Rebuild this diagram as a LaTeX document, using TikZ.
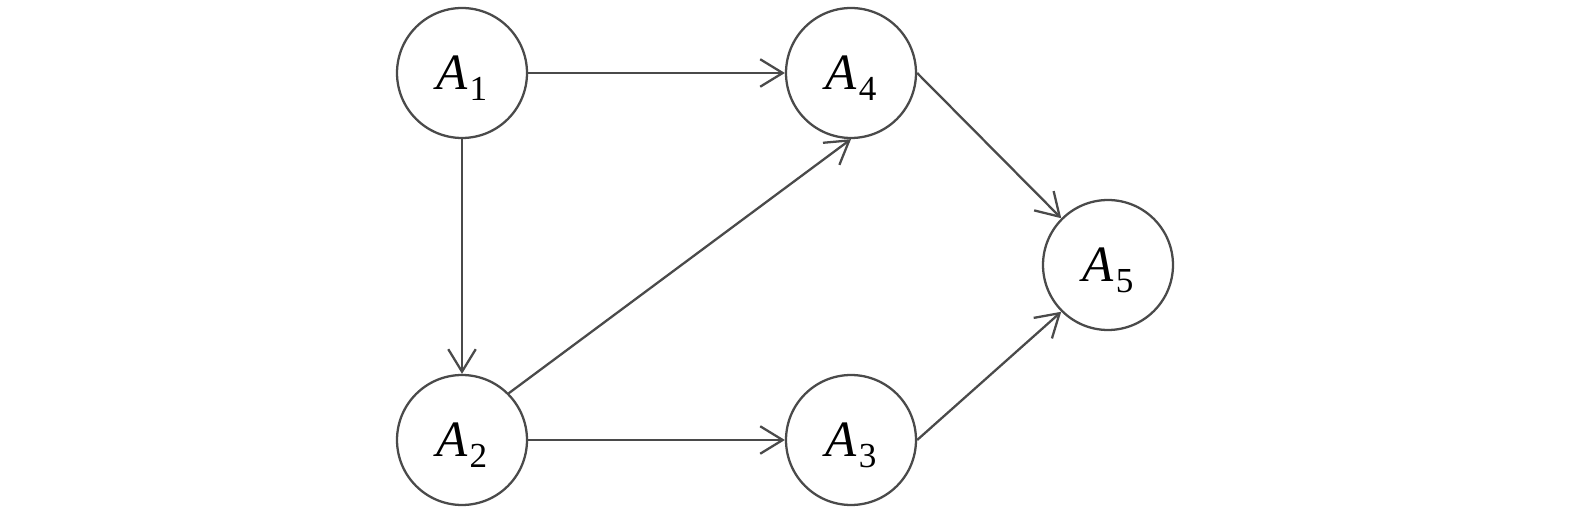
\documentclass[tikz,border=0pt]{standalone}
\usepackage{fontspec,tikz}
\setmainfont{Liberation Serif}
\usetikzlibrary{arrows.meta,calc,positioning}

\definecolor{edgegray}{HTML}{4A4A4A}
\newcommand{\statelabel}[1]{\textit{A}\kern1pt\raisebox{-6pt}[0pt][0pt]{\fontsize{20}{20}\selectfont #1}}

\begin{document}
\begin{tikzpicture}[x=0.02cm,y=-0.02cm,
  state/.style={circle, draw=edgegray, line width=1.3pt, minimum size=2.6cm,
    inner sep=0pt, font=\fontsize{29}{34}\selectfont},
  link/.style={draw=edgegray, line width=1.3pt,
    -{Straight Barb[length=4.5mm,width=5.5mm,line width=1.3pt]}}]
\useasboundingbox (0,0) rectangle (1575,516);

% States
\node[state] (A1) at (462,73) {\statelabel{1}};
\node[state] (A4) at (851,73) {\statelabel{4}};
\node[state] (A2) at (462,440) {\statelabel{2}};
\node[state] (A3) at (851,440) {\statelabel{3}};
\node[state] (A5) at (1108,265) {\statelabel{5}};

% Transitions
\draw[link] (A1.east) -- (A4.west);
\draw[link] (A1.south) -- (A2.north);
\draw[link] (A2.north east) -- (A4.south);
\draw[link] (A2.east) -- (A3.west);
\draw[link] (A4.east) -- (A5.north west);
\draw[link] (A3.east) -- (A5.south west);
\end{tikzpicture}
\end{document}
